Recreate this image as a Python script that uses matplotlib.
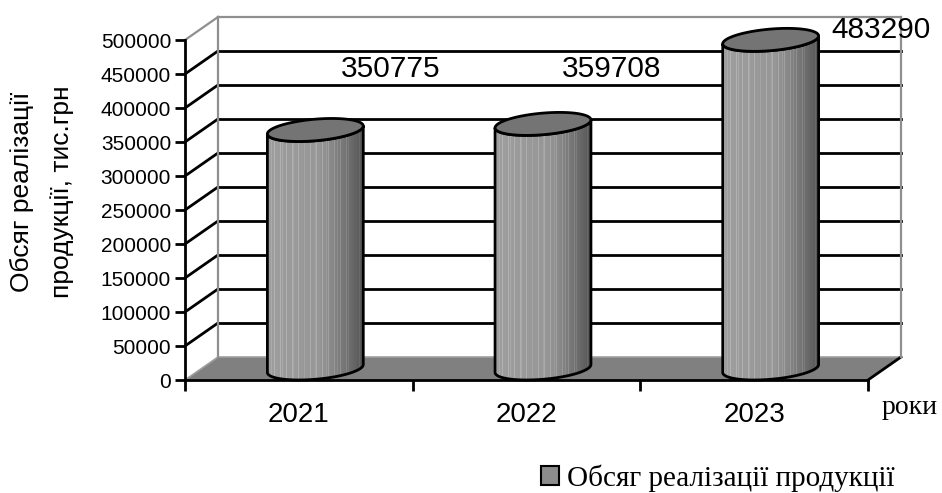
import numpy as np
import matplotlib
matplotlib.use("Agg")
import matplotlib.pyplot as plt
from matplotlib.patches import Polygon, Patch

# ---- data ----
years = ["2021", "2022", "2023"]
values = [350775, 359708, 483290]
series_name = "Обсяг реалізації продукції"
y_label_lines = ["Обсяг реалізації", "продукції, тис.грн"]
x_unit_label = "роки"
y_ticks = list(range(0, 500001, 50000))

# ---- layout ----
W, H = 942, 493
fig = plt.figure(figsize=(W / 100, H / 100), dpi=100)
SANS = "Liberation Sans"
SERIF = "Liberation Serif"

# front plane in pixels
fx0, fx1 = 185, 868
fy_top, fy_bot = 40, 380
left, width = fx0 / W, (fx1 - fx0) / W
bottom, height = (H - fy_bot) / H, (fy_bot - fy_top) / H

n = len(years)
ymax = 500000

# background scene axes covering the whole figure with same transform
bg = fig.add_axes([0, 0, 1, 1])
bg.set_axis_off()

ux = (fx1 - fx0) / n          # px per category unit
uy = (fy_bot - fy_top) / ymax  # px per value unit
DX = 33 / ux
DY = 23 / uy

GRAYEDGE = "#8f8f8f"

# floor
floor = Polygon([(0, 0), (n, 0), (n + DX, DY), (DX, DY)], closed=True,
                facecolor="#808080", edgecolor="none", zorder=1)
bg.add_patch(floor)
bg.plot([DX, n + DX], [DY, DY], color="#a0a0a0", lw=1.2, zorder=2)
bg.plot([0, DX], [0, DY], color="#a0a0a0", lw=1.2, zorder=2)
bg.plot([n, n + DX], [0, DY], color="black", lw=2, zorder=2)

# back wall gridlines and left wall diagonals
for v in y_ticks[1:-1]:
    bg.plot([DX, n + DX], [v + DY, v + DY], color="black", lw=2, zorder=2)
    bg.plot([0, DX], [v, v + DY], color="black", lw=2, zorder=2)
# wall edges
bg.plot([DX, n + DX], [ymax + DY, ymax + DY], color=GRAYEDGE, lw=1.6, zorder=2)
bg.plot([0, DX], [ymax, ymax + DY], color=GRAYEDGE, lw=1.6, zorder=2)
bg.plot([DX, DX], [DY, ymax + DY], color=GRAYEDGE, lw=1.6, zorder=2)
bg.plot([n + DX, n + DX], [DY, ymax + DY], color=GRAYEDGE, lw=1.6, zorder=2)

# cylinders
a = 45 / ux
th0 = np.arctan2(0.5 * DX * ux, a * ux)


def ell(cx, v, th):
    d = 0.5 + 0.5 * np.sin(th)
    return cx + a * np.cos(th) + d * DX, v + d * DY


# gradient with light stripes
ncol = 96
t = np.linspace(0, 1, ncol)
base = 0.62 - 0.06 * t - 0.22 * np.clip((t - 0.55) / 0.45, 0, 1) ** 1.2
stripe = np.zeros(ncol)
for k in range(ncol):
    if k % 6 == 1 and t[k] < 0.85:
        stripe[k] = 0.08
    if k % 11 == 4:
        stripe[k] = 0.05
grad = np.clip(base + stripe, 0, 1)[None, :]

for i, v in enumerate(values):
    cx = i + 0.5
    thb = np.linspace(np.pi + th0, 2 * np.pi + th0, 80)
    bx, by = ell(cx, 0, thb)
    tx, ty = ell(cx, v, thb[::-1])
    body_pts = np.column_stack([np.concatenate([bx, tx]), np.concatenate([by, ty])])
    body = Polygon(body_pts, closed=True, facecolor="none", edgecolor="black",
                   lw=2, zorder=5, joinstyle="round")
    clip = Polygon(body_pts, closed=True, facecolor="none", edgecolor="none",
                   transform=bg.transData)
    bg.add_patch(clip)
    xl, xr = bx.min(), bx.max()
    im = bg.imshow(grad, cmap="gray", vmin=0, vmax=1, aspect="auto",
                   extent=[xl, xr, -DY, v + DY], zorder=4, interpolation="nearest")
    im.set_clip_box(None)
    im.set_clip_path(clip)
    bg.add_patch(body)
    tha = np.linspace(0, 2 * np.pi, 160)
    ex, ey = ell(cx, v, tha)
    top = Polygon(np.column_stack([ex, ey]), closed=True, facecolor="#747474",
                  edgecolor="black", lw=2, zorder=6)
    bg.add_patch(top)

bg.set_xlim(0 - n * left / width, n + n * (1 - left - width) / width)
bg.set_ylim(0 - ymax * bottom / height, ymax + ymax * (1 - bottom - height) / height)

# front axes for ticks and spines
ax = fig.add_axes([left, bottom, width, height])
ax.patch.set_visible(False)
ax.set_xlim(0, n)
ax.set_ylim(0, ymax)
for s in ["top", "right"]:
    ax.spines[s].set_visible(False)
for s in ["left", "bottom"]:
    ax.spines[s].set_linewidth(2)
    ax.spines[s].set_zorder(10)
ax.set_yticks(y_ticks)
ax.set_yticklabels([str(v) for v in y_ticks], fontsize=15, fontfamily=SANS)
ax.tick_params(axis="y", direction="out", length=7, width=2, pad=3)
ax.set_xticks(range(n + 1))
ax.set_xticklabels([])
ax.tick_params(axis="x", which="major", direction="out", length=8, width=2)
ax.set_xticks([i + 0.5 for i in range(n)], minor=True)
ax.set_xticklabels(years, minor=True, fontsize=20, fontfamily=SANS)
ax.tick_params(axis="x", which="minor", length=0, pad=16)

# value labels (placed as in the original chart)
label_xy = [(391, 69), (612, 69), (881, 30)]
for (px, py), v in zip(label_xy, values):
    fig.text(px / W, 1 - py / H, str(v), ha="center", va="center",
             fontsize=21.5, fontfamily=SANS, zorder=20)

# axis titles
fig.text(22 / W, 1 - 192 / H, y_label_lines[0], rotation=90, ha="center",
         va="center", fontsize=19, fontfamily=SANS)
fig.text(62 / W, 1 - 192 / H, y_label_lines[1], rotation=90, ha="center",
         va="center", fontsize=19, fontfamily=SANS)
fig.text(882 / W, 1 - 407 / H, x_unit_label, ha="left", va="center",
         fontsize=20, fontfamily=SERIF)

# legend
fig.legend(handles=[Patch(facecolor="#8c8c8c", edgecolor="black", lw=1.5)],
           labels=[series_name], loc="center left",
           bbox_to_anchor=(541 / W, 1 - 478 / H), frameon=False,
           handlelength=0.6, handleheight=0.6, handletextpad=0.3,
           borderaxespad=0, borderpad=0,
           prop={"family": SERIF, "size": 21})

fig.savefig("out.png", dpi=100)
